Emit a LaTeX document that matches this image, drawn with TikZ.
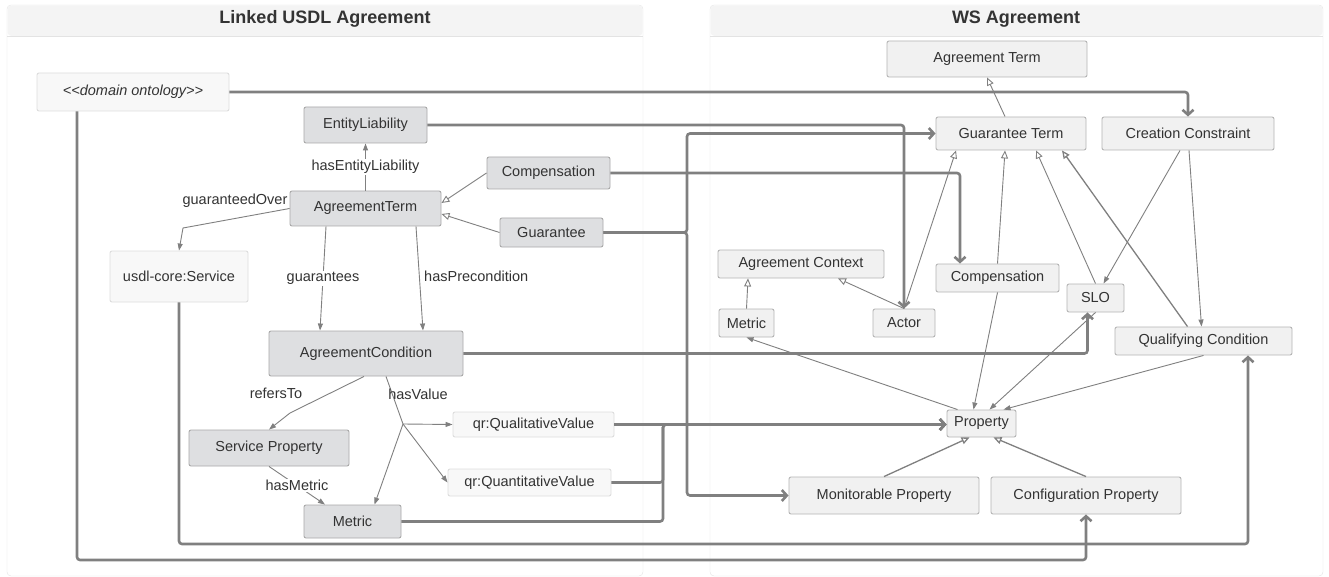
\documentclass[tikz,border=0pt]{standalone}
\usepackage{fontspec}
\setmainfont{Liberation Sans}
\usetikzlibrary{arrows.meta}
\definecolor{ln}{HTML}{808080}
\definecolor{dk}{HTML}{DEDFE1}
\definecolor{dkb}{HTML}{A9A9A9}
\definecolor{ws}{HTML}{F1F1F1}
\definecolor{wsb}{HTML}{B4B4B4}
\definecolor{vl}{HTML}{F8F8F8}
\definecolor{vlb}{HTML}{DDDDDD}
\definecolor{pnl}{HTML}{E3E3E3}
\definecolor{hdr}{HTML}{F4F4F4}
\definecolor{txt}{HTML}{333333}
\newcommand{\nf}{\fontsize{14.5}{16}\selectfont}
\begin{document}
\begin{tikzpicture}[x=1pt,y=-1pt,
  box/.style={rounded corners=2pt, line width=0.9pt, inner sep=0pt, font=\nf, text=txt},
  dbox/.style={box, draw=dkb, fill=dk},
  wbox/.style={box, draw=wsb, fill=ws},
  lbox/.style={box, draw=vlb, fill=vl},
  thk/.style={draw=ln, line width=2.6pt, rounded corners=3pt, -{Straight Barb[length=5pt,width=11pt]}},
  thn/.style={draw=ln, line width=0.9pt},
  fa/.style={thn, -{Triangle[length=7pt,width=5pt]}},
  oa/.style={thn, -{Triangle[open,length=8pt,width=7pt,fill=white]}},
  lbl/.style={font=\nf, text=txt, inner sep=1pt},
  ttl/.style={font=\fontsize{18}{20}\selectfont\bfseries, text=txt}
]
\useasboundingbox (0,0) rectangle (1329,577);
% panels
\draw[pnl, fill=white, rounded corners=4pt] (7,5) rectangle (643,576);
\fill[hdr, rounded corners=4pt] (7.5,5.5) rectangle (642.5,36);
\draw[pnl] (7,36) -- (643,36);
\node[ttl] (t1) at (325,19) {Linked USDL Agreement};
\draw[pnl, fill=white, rounded corners=4pt] (710,5) rectangle (1323,576);
\fill[hdr, rounded corners=4pt] (710.5,5.5) rectangle (1322.5,36);
\draw[pnl] (710,36) -- (1323,36);
\node[ttl] (t2) at (1016,19) {WS Agreement};

% left nodes
\node[lbox, minimum width=192, minimum height=38] (dom) at (133,92) {\itshape <{}<domain ontology>{}>};
\node[dbox, minimum width=123, minimum height=36] (el) at (365.5,125) {EntityLiability};
\node[dbox, minimum width=123, minimum height=32] (compL) at (548.5,173) {Compensation};
\node[dbox, minimum width=151, minimum height=35] (at) at (365.5,208.5) {AgreementTerm};
\node[dbox, minimum width=103, minimum height=29] (guar) at (551.5,232.5) {Guarantee};
\node[lbox, minimum width=138, minimum height=51] (svc) at (179,276.5) {usdl-core:Service};
\node[dbox, minimum width=194, minimum height=45] (ac) at (366,353.5) {AgreementCondition};
\node[lbox, minimum width=161, minimum height=25] (qual) at (533.5,424.5) {qr:QualitativeValue};
\node[dbox, minimum width=160, minimum height=36] (sp) at (269,448) {Service Property};
\node[lbox, minimum width=163, minimum height=27] (quant) at (529.5,482.5) {qr:QuantitativeValue};
\node[dbox, minimum width=97, minimum height=33] (metL) at (352.5,521.5) {Metric};

% right nodes
\node[wbox, minimum width=200, minimum height=36] (atR) at (987,59) {Agreement Term};
\node[wbox, minimum width=150, minimum height=33] (gt) at (1011,133.5) {Guarantee Term};
\node[wbox, minimum width=172, minimum height=33] (cc) at (1188,133.5) {Creation Constraint};
\node[wbox, minimum width=166, minimum height=28] (actx) at (801,264) {Agreement Context};
\node[wbox, minimum width=123, minimum height=28] (compR) at (997.5,278) {Compensation};
\node[wbox, minimum width=57, minimum height=28] (slo) at (1095.5,298) {SLO};
\node[wbox, minimum width=55, minimum height=28] (metR) at (746.5,323) {Metric};
\node[wbox, minimum width=62, minimum height=28] (actor) at (904,323) {Actor};
\node[wbox, minimum width=177, minimum height=28] (qc) at (1203.5,341) {Qualifying Condition};
\node[wbox, minimum width=69, minimum height=27] (prop) at (981.5,423.5) {Property};
\node[wbox, minimum width=190, minimum height=37] (mp) at (884,495.5) {Monitorable Property};
\node[wbox, minimum width=190, minimum height=37] (cp) at (1086,495.5) {Configuration Property};

% junction coordinates
\coordinate (gj) at (687,232.5);
\coordinate (vx) at (663,424.5);
\coordinate (r7) at (1248,544);
\coordinate (r8) at (1086,560);
\coordinate (hv) at (403,424);
\coordinate (go) at (183,228);
\coordinate (rt) at (290,413);

% thick connectors
\draw[thk] (dom.east) -| (cc.north);
\draw[thk] (el.east) -| (actor.north);
\draw[thk] (guar.east) -- (gj) |- (gt.west);
\draw[thk] (guar.east) -- (gj) |- (mp.west);
\draw[thk] (compL.east) -| ([xshift=-37.5pt]compR.north);
\draw[thk] (ac.east) -| ([xshift=-8pt]slo.south);
\draw[thk] (qual.east) -- (qual.east -| prop.west);
\draw[thk] (quant.east) -| (vx) -- (vx -| prop.west);
\draw[thk] (metL.east) -| (vx) -- (vx -| prop.west);
\draw[thk] (svc.south) |- (r7) -- (r7 |- qc.south);
\draw[thk] ([xshift=-56pt]dom.south) |- (r8) -- (cp.south);

% thin connectors, left
\draw[fa] (at.north) -- node[lbl, fill=white] {hasEntityLiability} (el.south);
\draw[oa] (compL.west) -- ([yshift=5.5pt]at.east);
\draw[oa] (guar.west) -- ([yshift=-5.5pt]at.east);
\draw[fa] (at.west) -- (go) -- (svc.north);
\node[lbl] (lgo) at (235,201) {guaranteedOver};
\draw[fa] ([xshift=-39.5pt]at.south) -- node[lbl, fill=white] {guarantees} ([xshift=-46pt]ac.north);
\draw[fa] ([xshift=50.5pt]at.south) -- ([xshift=57pt]ac.north);
\node[lbl, anchor=west] (lhp) at (423,276) {hasPrecondition};
\draw[fa] ([xshift=-2pt]ac.south) -- (rt) -- (sp.north);
\node[lbl] (lrt) at (276,393) {refersTo};
\draw[thn] ([xshift=20pt]ac.south) -- (hv);
\draw[fa] (hv) -- (qual.west);
\draw[fa] (hv) -- (quant.west);
\draw[fa] (hv) -- ([xshift=22pt]metL.north);
\node[lbl] (lhv) at (418,394) {hasValue};
\draw[fa] (sp.south) -- node[lbl, fill=white] {hasMetric} ([xshift=-27.5pt]metL.north);

% thin connectors, right
\draw[oa] ([xshift=-6pt]gt.north) -- (atR.south);
\draw[oa] (actor.north) -- ([xshift=-55pt]gt.south);
\draw[oa] (compR.north) -- ([xshift=-6pt]gt.south);
\draw[oa] (slo.north) -- ([xshift=25pt]gt.south);
\draw[oa, line width=1.3pt] ([xshift=-16pt]qc.north) -- ([xshift=51pt]gt.south);
\draw[fa] ([xshift=-8pt]cc.south) -- ([xshift=8pt]slo.north);
\draw[fa] ([xshift=1pt]cc.south) -- ([xshift=-2pt]qc.north);
\draw[oa] (metR.north) -- ([xshift=-53pt]actx.south);
\draw[oa] (actor.north) -- ([xshift=37pt]actx.south);
\draw[fa] ([xshift=-24pt]prop.north) -- (metR.south);
\draw[fa] (compR.south) -- ([xshift=-8pt]prop.north);
\draw[fa] (slo.south) -- ([xshift=8pt]prop.north);
\draw[fa] (qc.south) -- ([xshift=22pt]prop.north);
\draw[oa, line width=1.3pt] (mp.north) -- ([xshift=-12pt]prop.south);
\draw[oa, line width=1.3pt] (cp.north) -- ([xshift=12pt]prop.south);
\end{tikzpicture}
\end{document}
